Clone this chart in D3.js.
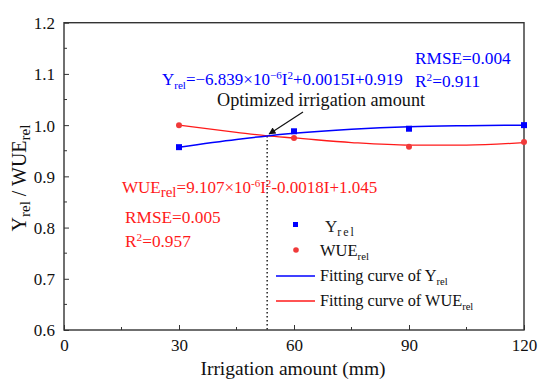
<!DOCTYPE html>
<html>
<head>
<meta charset="utf-8">
<script src="https://cdn.jsdelivr.net/npm/d3@7"></script>
<style>
  body { margin: 0; background: #fff; }
  svg text { font-family: 'Liberation Serif', serif; }
</style>
</head>
<body>
<svg id="canvas" width="550" height="381"></svg>
<script>
// measured points
let irrigation = [30, 60, 90, 120];
let yRel = [0.957, 0.988, 0.993, 1.0];
let wueRel = [1.0, 0.975, 0.958, 0.967];

// fitted curves
let curveX = [30, 45, 53, 60, 75, 90, 105, 120];
let yRelCurve = [0.957, 0.972, 0.979, 0.984, 0.992, 0.997, 0.999, 1.0];
let wueRelCurve = [1.0, 0.986, 0.979, 0.975, 0.966, 0.961, 0.961, 0.966];

let optimum = 53;
let optimumValue = 0.979;

let xTicks = [0, 30, 60, 90, 120];
let yTicks = [0.6, 0.7, 0.8, 0.9, 1.0, 1.1, 1.2];

let blue = '#0000ff';
let red = '#ff1a1a';

let canvas = d3.select('#canvas');

let plotLeft = 64, plotRight = 524, plotTop = 22.7, plotBottom = 330;

let xScale = d3.scaleLinear().domain([0, 120]).range([plotLeft, plotRight]);
let yScale = d3.scaleLinear().domain([0.6, 1.2]).range([plotBottom, plotTop]);

// rich text helper: pieces are [text, 'n' | 'sub' | 'sup', size, spacing]
let richText = (x, y, pieces, color, size) => {
  let t = canvas.append('text').attr('x', x).attr('y', y)
    .attr('fill', color).style('font-size', size + 'px');
  let shift = 0;
  pieces.forEach((p) => {
    let target = p[1] === 'sub' ? 4 : p[1] === 'sup' ? -6 : 0;
    let span = t.append('tspan').text(p[0]).attr('dy', target - shift);
    if (p[1] !== 'n') span.style('font-size', (p[2] || size * 0.65) + 'px');
    if (p[3]) span.attr('letter-spacing', p[3]);
    shift = target;
  });
  return t;
};

// axes with inward ticks
let xAxis = d3.axisBottom(xScale).tickValues(xTicks).tickSize(-5).tickPadding(9)
  .tickFormat(d3.format('d'));
let yAxis = d3.axisLeft(yScale).tickValues(yTicks).tickSize(-5).tickPadding(9)
  .tickFormat(d3.format('.1f'));

let gx = canvas.append('g').attr('transform', 'translate(0,' + plotBottom + ')').call(xAxis);
let gy = canvas.append('g').attr('transform', 'translate(' + plotLeft + ',0)').call(yAxis);

// minor ticks
let xMinor = [15, 45, 75, 105];
let yMinor = [0.65, 0.75, 0.85, 0.95, 1.05, 1.15];
canvas.selectAll('.xminor').data(xMinor).enter().append('line')
  .attr('x1', (d) => xScale(d)).attr('x2', (d) => xScale(d))
  .attr('y1', plotBottom).attr('y2', plotBottom - 3)
  .attr('stroke', '#333').attr('stroke-width', 1);
canvas.selectAll('.yminor').data(yMinor).enter().append('line')
  .attr('x1', plotLeft).attr('x2', plotLeft + 3)
  .attr('y1', (d) => yScale(d)).attr('y2', (d) => yScale(d))
  .attr('stroke', '#333').attr('stroke-width', 1);

[gx, gy].forEach((g) => {
  g.select('.domain').remove();
  g.selectAll('line').attr('stroke', '#333').attr('stroke-width', 1);
  g.selectAll('text').attr('fill', '#111').style('font-size', '17px')
    .style('font-family', "'Liberation Serif', serif");
});
gy.selectAll('text').attr('dy', '0.35em');

// frame
canvas.append('rect').attr('x', plotLeft).attr('y', plotTop)
  .attr('width', plotRight - plotLeft).attr('height', plotBottom - plotTop)
  .attr('fill', 'none').attr('stroke', '#333').attr('stroke-width', 1.4);

// dotted optimum line
canvas.append('line')
  .attr('x1', xScale(optimum)).attr('x2', xScale(optimum))
  .attr('y1', yScale(optimumValue)).attr('y2', plotBottom)
  .attr('stroke', '#222').attr('stroke-width', 1.5)
  .attr('stroke-dasharray', '1.5,2.5');

// fitting curves
let line = (vals) => d3.line()
  .x((d, i) => xScale(curveX[i]))
  .y((d) => yScale(d))
  .curve(d3.curveMonotoneX)(vals);

canvas.append('path').attr('d', line(wueRelCurve))
  .attr('fill', 'none').attr('stroke', red).attr('stroke-width', 1.3);
canvas.append('path').attr('d', line(yRelCurve))
  .attr('fill', 'none').attr('stroke', blue).attr('stroke-width', 1.5);

// points
canvas.selectAll('.ypt').data(yRel).enter().append('rect')
  .attr('x', (d, i) => xScale(irrigation[i]) - 3)
  .attr('y', (d) => yScale(d) - 3)
  .attr('width', 6).attr('height', 6).attr('fill', blue);
canvas.selectAll('.wpt').data(wueRel).enter().append('circle')
  .attr('cx', (d, i) => xScale(irrigation[i]))
  .attr('cy', (d) => yScale(d))
  .attr('r', 3).attr('fill', '#f03a3a');

// arrow
canvas.append('defs').append('marker').attr('id', 'arrow')
  .attr('viewBox', '0 0 10 10').attr('refX', 9).attr('refY', 5)
  .attr('markerWidth', 9).attr('markerHeight', 7).attr('orient', 'auto')
  .attr('markerUnits', 'userSpaceOnUse')
  .append('path').attr('d', 'M0,0 L10,5 L0,10 z').attr('fill', '#111');
canvas.append('line')
  .attr('x1', 303).attr('y1', 112)
  .attr('x2', xScale(optimum) + 2).attr('y2', yScale(optimumValue) - 2)
  .attr('stroke', '#111').attr('stroke-width', 1.2)
  .attr('marker-end', 'url(#arrow)');

// annotations
richText(162, 85, [['Y', 'n'], ['rel', 'sub'], ['=\u22126.839\u00d710', 'n'], ['\u22126', 'sup'],
  ['I', 'n'], ['2', 'sup'], ['+0.0015I+0.919', 'n']], blue, 17);
richText(415, 64, [['RMSE=0.004', 'n']], blue, 17.3);
richText(415, 87, [['R', 'n'], ['2', 'sup'], ['=0.911', 'n']], blue, 17.3);

canvas.append('text').attr('x', 217).attr('y', 106).attr('fill', '#111')
  .style('font-size', '18.2px').text('Optimized irrigation amount');

richText(122, 193, [['WUE', 'n'], ['rel', 'sub', 15], ['=9.107\u00d710', 'n'], ['-6', 'sup'],
  ['I', 'n'], ['2', 'sup'], ['-0.0018I+1.045', 'n']], red, 17);
richText(125, 223, [['RMSE=0.005', 'n']], red, 17.3);
richText(125, 247, [['R', 'n'], ['2', 'sup'], ['=0.957', 'n']], red, 17.3);

// legend
canvas.append('rect').attr('x', 293).attr('y', 222).attr('width', 5).attr('height', 5).attr('fill', blue);
canvas.append('circle').attr('cx', 296).attr('cy', 250).attr('r', 2.8).attr('fill', '#f03a3a');
canvas.append('line').attr('x1', 276).attr('x2', 315).attr('y1', 276).attr('y2', 276)
  .attr('stroke', blue).attr('stroke-width', 1.5);
canvas.append('line').attr('x1', 276).attr('x2', 315).attr('y1', 301).attr('y2', 301)
  .attr('stroke', red).attr('stroke-width', 1.3);

richText(325, 232, [['Y', 'n'], ['rel', 'sub', 12, 2]], '#222', 17);
richText(320, 256, [['WUE', 'n'], ['rel', 'sub']], '#111', 16.5);
richText(320, 281, [['Fitting curve of Y', 'n'], ['rel', 'sub']], '#111', 16.3);
richText(320, 306, [['Fitting curve of WUE', 'n'], ['rel', 'sub']], '#111', 16.3);

// axis titles
canvas.append('text').attr('x', (plotLeft + plotRight) / 2 - 1).attr('y', 375)
  .attr('text-anchor', 'middle').attr('fill', '#111').style('font-size', '19.5px')
  .text('Irrigation amount (mm)');

richText(0, 0, [['Y', 'n'], ['rel', 'sub', 15], [' / WUE', 'n'], ['rel', 'sub', 15]], '#111', 20)
  .attr('text-anchor', 'middle')
  .attr('transform', 'translate(26,' + 178 + ') rotate(-90)');
</script>
</body>
</html>
